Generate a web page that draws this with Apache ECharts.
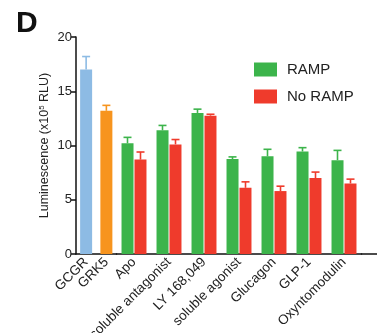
<!DOCTYPE html>
<html><head><meta charset="utf-8">
<script src="https://cdn.jsdelivr.net/npm/echarts@6/dist/echarts.min.js"></script>
<style>html,body{margin:0;padding:0;background:#fff}#c{width:377px;height:333px}</style>
</head><body><div id="c"></div>
<script>
// Single controls
const singleCats = ['GCGR', 'GRK5'];
const singleVals = [17.0, 13.2];
const singleErr = [18.2, 13.7];
const singleColors = ['#8dbbe4', '#f7941e'];
// Paired groups
const groupCats = ['Apo', 'soluble antagonist', 'LY 168,049', 'soluble agonist', 'Glucagon', 'GLP-1', 'Oxyntomodulin'];
const rampVals = [10.2, 11.4, 13.0, 8.75, 9.0, 9.45, 8.65];
const rampErr = [10.75, 11.85, 13.35, 8.95, 9.65, 9.8, 9.55];
const noRampVals = [8.7, 10.1, 12.75, 6.1, 5.8, 7.0, 6.5];
const noRampErr = [9.4, 10.55, 12.88, 6.65, 6.25, 7.55, 6.9];
const yTicks = [0, 5, 10, 15, 20];

const GREEN = '#3cb44b', RED = '#ef3b2c';
const BAR_W = 12;
const FONT = 'Liberation Sans, Arial, sans-serif';

function errBars(xi, yi, means, ups, colorFn, offset) {
  return {
    type: 'custom', xAxisIndex: xi, yAxisIndex: yi, z: 1, silent: true,
    data: means.map((m, i) => [i, m, ups[i]]),
    renderItem: function (params, api) {
      const p0 = api.coord([api.value(0), api.value(1)]);
      const p1 = api.coord([api.value(0), api.value(2)]);
      const x = p0[0] + offset;
      const color = colorFn(params.dataIndex);
      return {
        type: 'group',
        children: [
          { type: 'line', shape: { x1: x, y1: p0[1], x2: x, y2: p1[1] }, style: { stroke: color, lineWidth: 1.6 } },
          { type: 'line', shape: { x1: x - 4, y1: p1[1], x2: x + 4, y2: p1[1] }, style: { stroke: color, lineWidth: 1.6 } }
        ]
      };
    }
  };
}

const chart = echarts.init(document.getElementById('c'), null, { renderer: 'canvas' });
const TOP = 37, BOTTOM = 79;
const xCommon = {
  type: 'category',
  axisLine: { onZero: false, lineStyle: { color: '#111', width: 1.5 } },
  axisTick: { alignWithLabel: true, length: 5, lineStyle: { color: '#111', width: 1.5 } },
  axisLabel: { rotate: 45, fontSize: 13.5, color: '#222', fontFamily: FONT, margin: 6, interval: 0 }
};
const yHidden = { type: 'value', min: 0, max: 20, interval: 5, show: false };
const gridCommon = { top: TOP, bottom: BOTTOM, containLabel: false, outerBoundsMode: 'none' };

chart.setOption({
  animation: false,
  textStyle: { fontFamily: FONT },
  title: { text: 'D', left: 11, top: 4, textStyle: { fontSize: 30, fontWeight: 'bold', color: '#111', fontFamily: FONT } },
  legend: {
    data: ['RAMP', 'No RAMP'], orient: 'vertical', left: 249, top: 57,
    itemWidth: 23, itemHeight: 14, itemGap: 12, icon: 'rect',
    textStyle: { fontSize: 15, color: '#222', fontFamily: FONT, padding: [0, 0, 0, 5] }
  },
  grid: [
    Object.assign({ left: 76, width: 40.5 }, gridCommon),
    Object.assign({ left: 116.5, width: 245 }, gridCommon),
    Object.assign({ left: 361.5, right: 0 }, gridCommon)
  ],
  xAxis: [
    Object.assign({}, xCommon, { gridIndex: 0, data: singleCats }),
    Object.assign({}, xCommon, { gridIndex: 1, data: groupCats }),
    { type: 'category', gridIndex: 2, data: [''], axisLine: { onZero: false, lineStyle: { color: '#111', width: 1.5 } }, axisTick: { show: false }, axisLabel: { show: false } }
  ],
  yAxis: [
    {
      type: 'value', gridIndex: 0, min: yTicks[0], max: yTicks[yTicks.length - 1], interval: 5,
      axisLine: { show: true, lineStyle: { color: '#111', width: 1.5 } },
      axisTick: { show: true, length: 5, lineStyle: { color: '#111', width: 1.5 } },
      splitLine: { show: false },
      axisLabel: { fontSize: 13, color: '#222', fontFamily: FONT, margin: 4 },
      name: '{a|Luminescence (x10}{s|5}{a| RLU)}', nameLocation: 'middle', nameGap: 24,
      nameTextStyle: { rich: { a: { fontSize: 12.5, color: '#222', fontFamily: FONT }, s: { fontSize: 8, color: '#222', fontFamily: FONT, verticalAlign: 'top', padding: [0, 0, 6, 0] } } }
    },
    Object.assign({ gridIndex: 1 }, yHidden),
    Object.assign({ gridIndex: 2 }, yHidden)
  ],
  series: [
    {
      type: 'bar', name: 'controls', xAxisIndex: 0, yAxisIndex: 0, barWidth: BAR_W,
      data: singleVals.map((v, i) => ({ value: v, itemStyle: { color: singleColors[i] } }))
    },
    { type: 'bar', name: 'RAMP', xAxisIndex: 1, yAxisIndex: 1, barWidth: BAR_W, barGap: '8%', itemStyle: { color: GREEN }, data: rampVals },
    { type: 'bar', name: 'No RAMP', xAxisIndex: 1, yAxisIndex: 1, barWidth: BAR_W, barGap: '8%', itemStyle: { color: RED }, data: noRampVals },
    errBars(0, 0, singleVals, singleErr, i => singleColors[i], 0),
    errBars(1, 1, rampVals, rampErr, () => GREEN, -6.5),
    errBars(1, 1, noRampVals, noRampErr, () => RED, 6.5)
  ]
});
</script></body></html>
